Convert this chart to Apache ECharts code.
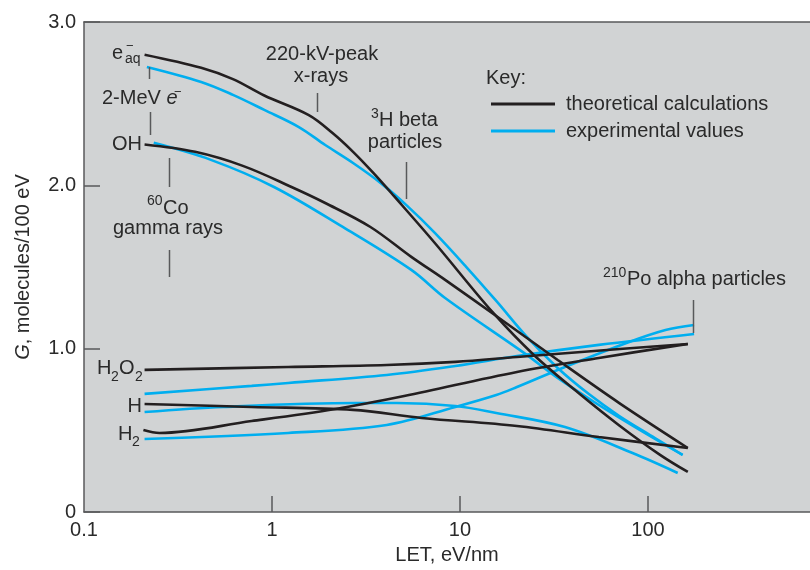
<!DOCTYPE html>
<html><head><meta charset="utf-8">
<script src="https://cdn.jsdelivr.net/npm/echarts@6/dist/echarts.min.js"></script>
<style>html,body{margin:0;padding:0;background:#fff}#c{width:810px;height:570px}</style>
</head><body><div id="c"></div>
<script>
const FONT = '"Liberation Sans", Arial, sans-serif';
const INK = '#2a2a2a';
const BLACK = '#231f20';
const BLUE = '#00aeef';

// x: LET (eV/nm), y: G (molecules/100 eV)
const xTickValues = [1, 10, 100];
const xLabelValues = [0.1, 1, 10, 100];
const yTickLabels = ['0', '1.0', '2.0', '3.0'];

const theoryEaq = [[0.21,2.80],[0.42,2.72],[0.62,2.65],[0.91,2.55],[1.57,2.43],[2.1,2.32],[2.70,2.205],[3.46,2.076],[4.45,1.935],[7.35,1.647],[15,1.22],[24.8,0.96],[42.6,0.73],[70.4,0.53],[116,0.35],[163,0.245]];
const exptEaq = [[0.216,2.725],[0.42,2.633],[0.62,2.554],[0.91,2.462],[1.39,2.357],[1.92,2.247],[2.70,2.137],[3.78,2.015],[5.24,1.874],[7.35,1.709],[10.7,1.506],[15.6,1.292],[22.7,1.072],[33.1,0.882],[48.5,0.722],[70.4,0.588],[109,0.453],[153,0.349]];
const theoryOH = [[0.21,2.25],[0.39,2.205],[0.70,2.119],[1.27,1.99],[1.92,1.892],[3.34,1.745],[5.51,1.562],[8.34,1.421],[15.6,1.20],[33.1,0.931],[70.4,0.667],[163,0.392]];
const exptOH = [[0.235,2.26],[0.473,2.156],[1.025,1.99],[2.38,1.745],[5.51,1.482],[8.34,1.31],[21.9,0.974],[33.1,0.821],[54.8,0.655],[90.4,0.502],[153,0.349]];
const theoryH2O2 = [[0.21,0.87],[1.22,0.888],[4.08,0.90],[9.45,0.919],[20.1,0.949],[44.2,0.98],[163,1.029]];
const exptH2O2 = [[0.21,0.723],[0.78,0.772],[1.22,0.79],[4.08,0.839],[9.45,0.894],[20.1,0.955],[54.8,1.023],[176,1.09]];
const theoryH = [[0.21,0.661],[0.78,0.643],[2.70,0.625],[6.25,0.576],[20.1,0.527],[54.8,0.459],[163,0.392]];
const exptH = [[0.21,0.612],[0.551,0.643],[2.80,0.667],[4.62,0.667],[9.45,0.649],[15.6,0.606],[36.2,0.52],[82.8,0.361],[144,0.239]];
const theoryH2 = [[0.207,0.502],[0.252,0.484],[0.78,0.557],[2.18,0.631],[5.05,0.71],[20.1,0.857],[54.8,0.943],[163,1.029]];
const exptH2 = [[0.21,0.447],[1.22,0.484],[4.08,0.533],[9.45,0.643],[15.6,0.716],[20.1,0.765],[36.2,0.888],[76.9,1.035],[124,1.114],[176,1.145]];

const THEORY = 'theoretical calculations';
const EXPT = 'experimental values';

function line(name, data, color) {
  return { type: 'line', name: name, data: data, smooth: 0.35, showSymbol: false, symbol: 'none',
    color: color, lineStyle: { color: color, width: 2.6 }, emphasis: { disabled: true }, silent: true };
}

function txt(x, y, text, size, align, extra) {
  return Object.assign({ type: 'text', x: x, y: y, z: 100, silent: true,
    style: Object.assign({ text: text, fill: INK, fontSize: size, fontFamily: FONT,
      align: align || 'left', textAlign: align || 'left', verticalAlign: 'middle', textVerticalAlign: 'middle' }, extra || {}) });
}
function vline(x, y1, y2) {
  return { type: 'line', z: 100, silent: true, shape: { x1: x, y1: y1, x2: x, y2: y2 }, style: { stroke: '#58595b', lineWidth: 1.5 } };
}

const chart = echarts.init(document.getElementById('c'), null, { renderer: 'canvas' });
chart.setOption({
  animation: false,
  backgroundColor: '#ffffff',
  grid: { left: 84, right: 0, top: 22, bottom: 58, show: true, backgroundColor: '#d1d3d4', borderWidth: 0 },
  legend: {
    data: [THEORY, EXPT], orient: 'vertical', left: 491, top: 94, padding: 0, itemWidth: 64, itemHeight: 3, icon: 'rect',
    itemGap: 7, selectedMode: false,
    textStyle: { fontSize: 20, fontFamily: FONT, color: INK, lineHeight: 20, padding: [0, 0, 0, 6] }
  },
  xAxis: [{
    type: 'log', logBase: 10, min: 0.1, max: 728,
    name: 'LET, eV/nm', nameLocation: 'middle', nameGap: 33,
    nameTextStyle: { fontSize: 20, fontFamily: FONT, color: INK },
    axisLine: { show: true, lineStyle: { color: '#58595b', width: 1.5 } },
    axisTick: { show: true, inside: true, length: 16, customValues: xTickValues, lineStyle: { color: '#58595b', width: 1.5 } },
    axisLabel: { show: true, margin: 8, fontSize: 20, fontFamily: FONT, color: INK, customValues: xLabelValues,
      formatter: function (v) { return String(v); } },
    splitLine: { show: false }, minorTick: { show: false }
  }, {
    type: 'value', position: 'top', min: 0, max: 1,
    axisLine: { show: true, lineStyle: { color: '#58595b', width: 1.5 } },
    axisTick: { show: false }, axisLabel: { show: false }, splitLine: { show: false }
  }],
  yAxis: {
    type: 'value', min: 0, max: 3, interval: 1,
    name: '{i|G}, molecules/100 eV', nameLocation: 'middle', nameGap: 51,
    nameTextStyle: { fontSize: 20, fontFamily: FONT, color: INK,
      rich: { i: { fontStyle: 'italic', fontSize: 20, fontFamily: FONT, color: INK } } },
    axisLine: { show: true, lineStyle: { color: '#58595b', width: 1.5 } },
    axisTick: { show: true, inside: true, length: 16, lineStyle: { color: '#58595b', width: 1.5 } },
    axisLabel: { margin: 8, fontSize: 20, fontFamily: FONT, color: INK,
      formatter: function (v) { return yTickLabels[Math.round(v)]; } },
    splitLine: { show: false }
  },
  series: [
    line(EXPT, exptEaq, BLUE), line(EXPT, exptOH, BLUE), line(EXPT, exptH2O2, BLUE), line(EXPT, exptH, BLUE), line(EXPT, exptH2, BLUE),
    line(THEORY, theoryEaq, BLACK), line(THEORY, theoryOH, BLACK), line(THEORY, theoryH2O2, BLACK), line(THEORY, theoryH, BLACK), line(THEORY, theoryH2, BLACK)
  ],
  graphic: [
    // e-aq
    txt(112, 53, 'e', 20), txt(126, 46, '\u2212', 13), txt(125, 59, 'aq', 14),
    vline(149.5, 67, 79),
    { type: 'text', x: 102, y: 98, z: 100, silent: true, style: { text: '2-MeV {i|e}', fill: INK, fontSize: 20, fontFamily: FONT,
      align: 'left', textAlign: 'left', verticalAlign: 'middle', textVerticalAlign: 'middle',
      rich: { i: { fontStyle: 'italic', fontSize: 20, fontFamily: FONT, fill: INK, color: INK } } } },
    txt(174, 92, '\u2212', 13),
    vline(150.5, 112, 135),
    txt(142, 144, 'OH', 20, 'right'),
    vline(169.5, 158, 187),
    txt(147, 201, '60', 14), txt(163, 208, 'Co', 20),
    txt(168, 228, 'gamma rays', 20, 'center'),
    vline(169.5, 250, 277),
    // 220-kV
    txt(322, 54, '220-kV-peak', 20, 'center'),
    txt(321, 76, 'x-rays', 20, 'center'),
    vline(317.5, 93, 112),
    // 3H beta
    txt(371, 114, '3', 14), txt(379, 120, 'H beta', 20),
    txt(405, 142, 'particles', 20, 'center'),
    vline(406.5, 162, 199),
    // Key
    txt(486, 78, 'Key:', 20),
    // 210Po
    txt(603, 273, '210', 14), txt(627, 279, 'Po alpha particles', 20),
    vline(693.5, 300, 333),
    // H2O2, H, H2
    txt(97, 368, 'H', 20), txt(111, 377, '2', 14), txt(119, 368, 'O', 20), txt(135, 377, '2', 14),
    txt(142, 406, 'H', 20, 'right'),
    txt(118, 434, 'H', 20), txt(132, 442, '2', 14)
  ]
});
</script>
</body></html>
